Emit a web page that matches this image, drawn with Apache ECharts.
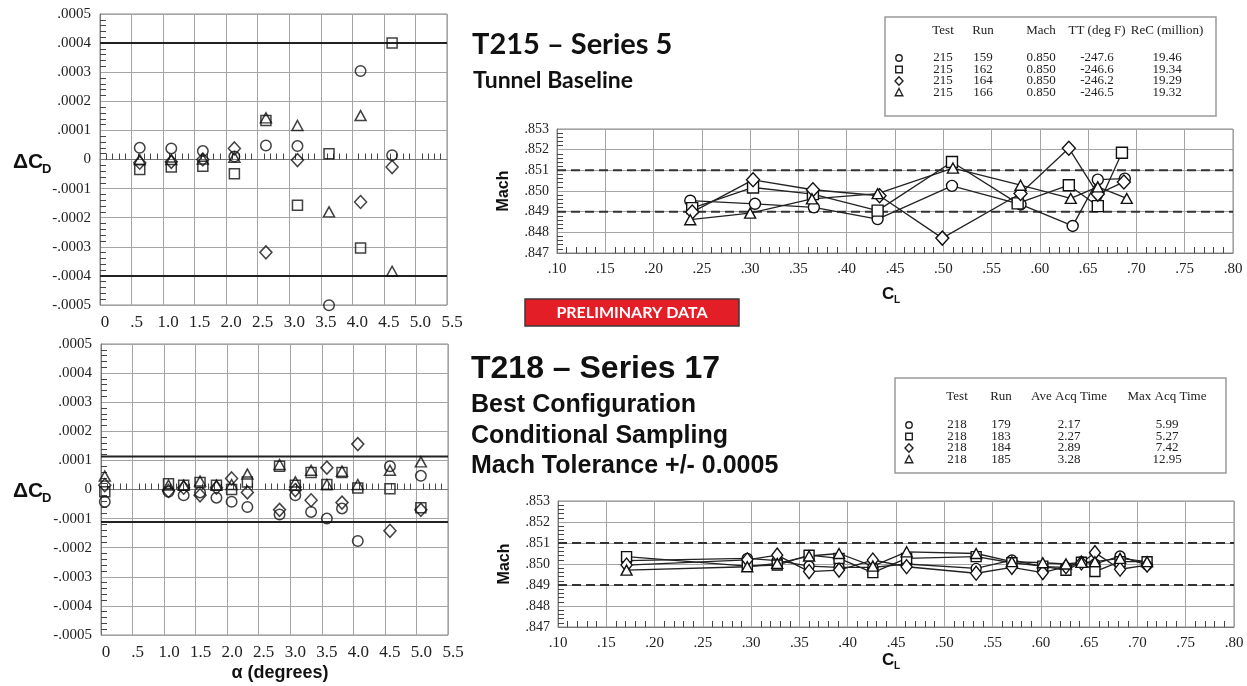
<!DOCTYPE html>
<html>
<head>
<meta charset="utf-8">
<script src="https://cdn.jsdelivr.net/npm/echarts/dist/echarts.min.js"></script>
<style>html,body{margin:0;padding:0;background:#fff;}#c{width:1247px;height:686px;}</style>
</head>
<body>
<div id="c"></div>
<script>
// ---------- Data: T215 Series 5, Delta CD vs alpha ----------
const tlAlpha  = [0.63, 1.13, 1.63, 2.13, 2.63, 3.13, 3.63, 4.13, 4.63];
const tlRun159 = [0.000040, 0.000038, 0.000029, 0.000010, 0.000048, 0.000046, -0.000501, 0.000304, 0.000015];
const tlRun162 = [-0.000034, -0.000026, -0.000023, -0.000049, 0.000134, -0.000157, 0.000020, -0.000304, 0.000400];
const tlRun164 = [-0.000011, -0.000008, 0.000000, 0.000038, -0.000319, -0.000002, null, -0.000146, -0.000026];
const tlRun166 = [0.000000, 0.000000, 0.000002, 0.000008, 0.000143, 0.000117, -0.000180, 0.000151, -0.000384];
const tlLimits = [0.0004, -0.0004];

// ---------- Data: T218 Series 17, Delta CD vs alpha ----------
const blAlpha  = [0.06, 1.07, 1.31, 1.57, 1.83, 2.07, 2.32, 2.83, 3.08, 3.33, 3.58, 3.82, 4.07, 4.58, 5.07];
const blRun179 = [-0.000042, -0.000008, -0.000020, -0.000010, -0.000028, -0.000042, -0.000060, -0.000086, -0.000020, -0.000077, -0.000100, -0.000065, -0.000177, 0.000080, 0.000047];
const blRun183 = [-0.000008, 0.000020, 0.000015, 0.000024, 0.000015, 0.000000, 0.000026, 0.000080, 0.000015, 0.000058, 0.000017, 0.000058, 0.000005, 0.000003, -0.000063];
const blRun184 = [0.000015, -0.000005, 0.000006, -0.000020, 0.000006, 0.000038, -0.000010, -0.000070, -0.000002, -0.000037, 0.000075, -0.000045, 0.000156, -0.000142, -0.000070];
const blRun185 = [0.000046, 0.000015, 0.000015, 0.000029, 0.000015, 0.000017, 0.000053, 0.000086, 0.000026, 0.000066, 0.000017, 0.000063, 0.000017, 0.000066, 0.000095];
const blLimits = [0.000113, -0.000112];

// ---------- Data: T215 Mach vs CL ----------
const trRun159CL   = [0.238, 0.305, 0.366, 0.432, 0.509, 0.580, 0.634, 0.660, 0.688];
const trRun159Mach = [0.84953, 0.84938, 0.84921, 0.84864, 0.85025, 0.84935, 0.84831, 0.85055, 0.85060];
const trRun162CL   = [0.240, 0.303, 0.365, 0.432, 0.509, 0.577, 0.630, 0.660, 0.685];
const trRun162Mach = [0.84917, 0.85017, 0.84985, 0.84905, 0.85140, 0.84940, 0.85028, 0.84927, 0.85185];
const trRun164CL   = [0.240, 0.303, 0.365, 0.434, 0.499, 0.580, 0.630, 0.660, 0.687];
const trRun164Mach = [0.84898, 0.85054, 0.85006, 0.84977, 0.84772, 0.84988, 0.85207, 0.84985, 0.85044];
const trRun166CL   = [0.238, 0.300, 0.364, 0.432, 0.510, 0.580, 0.632, 0.660, 0.690];
const trRun166Mach = [0.84861, 0.84893, 0.84962, 0.84987, 0.85111, 0.85028, 0.84964, 0.85020, 0.84964];

// ---------- Data: T218 Mach vs CL ----------
const brCL     = [0.171, 0.296, 0.327, 0.360, 0.391, 0.426, 0.461, 0.533, 0.570, 0.602, 0.626, 0.642, 0.656, 0.682, 0.710];
const brRun179 = [0.85016, 0.85027, 0.85016, 0.84990, 0.84984, 0.84984, 0.85000, 0.84979, 0.85019, 0.84987, 0.84984, 0.85011, 0.85000, 0.85038, 0.84995];
const brRun183 = [0.85035, 0.84990, 0.84995, 0.85042, 0.85027, 0.84959, 0.85027, 0.85035, 0.85006, 0.84990, 0.84970, 0.85008, 0.84964, 0.85011, 0.85011];
const brRun184 = [0.84995, 0.85020, 0.85042, 0.84964, 0.84971, 0.85019, 0.84987, 0.84956, 0.84984, 0.84959, 0.84987, 0.85005, 0.85054, 0.84975, 0.84995];
const brRun185 = [0.84971, 0.84987, 0.85003, 0.85038, 0.85050, 0.84990, 0.85058, 0.85050, 0.85011, 0.85006, 0.85000, 0.85008, 0.85011, 0.85027, 0.85011];
const machLimits = [0.851, 0.849];

// ---------- Axis ranges ----------
const alphaRange = [0, 5.5];
const clRange = [0.10, 0.80];

// ---------- Legend tables ----------
const topHeader = ['Test', 'Run', 'Mach', 'TT (deg F)', 'ReC (million)'];
const topRows = [
  ['215', '159', '0.850', '-247.6', '19.46'],
  ['215', '162', '0.850', '-246.6', '19.34'],
  ['215', '164', '0.850', '-246.2', '19.29'],
  ['215', '166', '0.850', '-246.5', '19.32']
];
const botHeader = ['Test', 'Run', 'Ave Acq Time', 'Max Acq Time'];
const botRows = [
  ['218', '179', '2.17', '5.99'],
  ['218', '183', '2.27', '5.27'],
  ['218', '184', '2.89', '7.42'],
  ['218', '185', '3.28', '12.95']
];

// ---------- helpers ----------
const zip = (xs, ys) => xs.map((x, i) => [x, ys[i]]);
const SYM = {
  circle: 'circle',
  square: 'rect',
  diamond: 'path://M0,-10L10,0L0,10L-10,0Z',
  triangle: 'path://M0,-10L10,8L-10,8Z'
};
const SIZE = { circle: 10.5, square: 10, diamond: [12, 13], triangle: [11, 10] };
const order = ['circle', 'square', 'diamond', 'triangle'];

function fmtDC(v) { if (Math.abs(v) < 1e-12) return '0'; return v.toFixed(4).replace('0.', '.'); }
function fmtAlpha(v) { if (Math.abs(v) < 1e-9) return '0'; if (Math.abs(v - 0.5) < 1e-9) return '.5'; return v.toFixed(1); }
function fmt2(v) { return v.toFixed(2).replace('0.', '.'); }
function fmt3(v) { return v.toFixed(3).replace('0.', '.'); }

const GRIDC = '#a4a4a4';
const SERIF = 'Liberation Serif';

function alphaX(gi) {
  return {
    gridIndex: gi, type: 'value', min: alphaRange[0], max: alphaRange[1], interval: 0.5,
    axisLine: { show: true, lineStyle: { color: '#777' } },
    axisTick: { show: false, inside: true },
    minorTick: { show: true, splitNumber: 5, length: 6, lineStyle: { color: '#444' } },
    splitLine: { show: true, lineStyle: { color: GRIDC } },
    axisLabel: { formatter: fmtAlpha, fontFamily: SERIF, fontSize: 17, color: '#222', margin: 9, padding: [0, 0, 0, 10] }
  };
}
function dcY(gi) {
  return {
    gridIndex: gi, type: 'value', min: -0.0005, max: 0.0005, interval: 0.0001,
    axisLine: { show: true, lineStyle: { color: '#777' } },
    axisTick: { show: false, inside: true },
    minorTick: { show: true, splitNumber: 5, length: 6, lineStyle: { color: '#444' } },
    splitLine: { show: true, lineStyle: { color: GRIDC } },
    axisLabel: { formatter: fmtDC, fontFamily: SERIF, fontSize: 15, color: '#222', margin: 9 }
  };
}
function clX(gi) {
  return {
    gridIndex: gi, type: 'value', min: clRange[0], max: clRange[1], interval: 0.05,
    axisLine: { show: true, lineStyle: { color: '#777' } },
    axisTick: { show: false, inside: true },
    minorTick: { show: true, splitNumber: 5, length: 6, lineStyle: { color: '#444' } },
    splitLine: { show: true, lineStyle: { color: GRIDC } },
    axisLabel: { formatter: fmt2, fontFamily: SERIF, fontSize: 15, color: '#222', margin: 9 }
  };
}
function machY(gi) {
  return {
    gridIndex: gi, type: 'value', min: 0.847, max: 0.853, interval: 0.001,
    name: 'Mach', nameLocation: 'middle', nameGap: 45, nameRotate: 90,
    nameTextStyle: { fontFamily: 'Liberation Sans', fontWeight: 'bold', fontSize: 16, color: '#111' },
    axisLine: { show: true, lineStyle: { color: '#777' } },
    axisTick: { show: false, inside: true },
    minorTick: { show: true, splitNumber: 5, length: 6, lineStyle: { color: '#444' } },
    splitLine: { show: true, lineStyle: { color: GRIDC } },
    axisLabel: { formatter: fmt3, fontFamily: SERIF, fontSize: 14, color: '#222', margin: 8 }
  };
}

function scatterSeries(gi, shape, data) {
  return {
    type: 'scatter', xAxisIndex: gi, yAxisIndex: gi, data: data,
    symbol: SYM[shape], symbolSize: SIZE[shape], clip: false,
    itemStyle: { color: 'rgba(0,0,0,0)', borderColor: '#111', borderWidth: 1.5 },
    z: 3
  };
}
function lineSeries(gi, shape, data, sizeOverride) {
  return {
    type: 'line', xAxisIndex: gi, yAxisIndex: gi, data: data,
    symbol: SYM[shape], symbolSize: sizeOverride || SIZE[shape], showSymbol: true, clip: false,
    lineStyle: { color: '#222', width: 1.3 },
    itemStyle: { color: '#fff', borderColor: '#111', borderWidth: 1.4 },
    z: 3
  };
}
function limitSeries(gi, v, range, dashed) {
  return {
    type: 'line', xAxisIndex: gi, yAxisIndex: gi, data: [[range[0], v], [range[1], v]],
    symbol: 'none', silent: true, z: 2,
    lineStyle: dashed ? { color: '#333', width: 2, type: [9, 5] } : { color: '#222', width: 2, type: 'solid' }
  };
}

const tlSets = [tlRun159, tlRun162, tlRun164, tlRun166];
const blSets = [blRun179, blRun183, blRun184, blRun185];
const trSets = [[trRun159CL, trRun159Mach], [trRun162CL, trRun162Mach], [trRun164CL, trRun164Mach], [trRun166CL, trRun166Mach]];
const brSets = [brRun179, brRun183, brRun184, brRun185];

const series = [];
tlLimits.forEach(v => series.push(limitSeries(0, v, alphaRange, false)));
blLimits.forEach(v => series.push(limitSeries(1, v, alphaRange, false)));
machLimits.forEach(v => series.push(limitSeries(2, v, clRange, true)));
machLimits.forEach(v => series.push(limitSeries(3, v, clRange, true)));
order.forEach((sh, i) => series.push(scatterSeries(0, sh, zip(tlAlpha, tlSets[i]))));
order.forEach((sh, i) => series.push(scatterSeries(1, sh, zip(blAlpha, blSets[i]))));
const trSize = { circle: 11, square: 11, diamond: [13, 14], triangle: [11, 10] };
order.forEach((sh, i) => series.push(lineSeries(2, sh, zip(trSets[i][0], trSets[i][1]), trSize[sh])));
const brSize = { circle: 10, square: 10, diamond: [11, 14], triangle: [11, 10] };
order.forEach((sh, i) => series.push(lineSeries(3, sh, zip(brCL, brSets[i]), brSize[sh])));

// ---------- graphic (titles, labels, tables) ----------
function txt(x, y, s, font, align, color) {
  return {
    type: 'text', x: x, y: y, z: 50, silent: true,
    style: { text: s, font: font, fill: color || '#111', align: align || 'left', textAlign: align || 'left',
             verticalAlign: 'middle', textVerticalAlign: 'middle' }
  };
}
function glyph(shape, cx, cy) {
  const st = { fill: 'none', stroke: '#222', lineWidth: 1.4 };
  if (shape === 'circle') return { type: 'circle', z: 50, shape: { cx: cx, cy: cy, r: 3.2 }, style: st };
  if (shape === 'square') return { type: 'rect', z: 50, shape: { x: cx - 3.3, y: cy - 3.3, width: 6.6, height: 6.6 }, style: st };
  if (shape === 'diamond') return { type: 'polygon', z: 50, shape: { points: [[cx, cy - 4.3], [cx + 4, cy], [cx, cy + 4.3], [cx - 4, cy]] }, style: st };
  return { type: 'polygon', z: 50, shape: { points: [[cx, cy - 4], [cx + 3.8, cy + 3.3], [cx - 3.8, cy + 3.3]] }, style: st };
}

const TF = '13px "Liberation Serif"';
const graphics = [];
// top legend table
graphics.push({ type: 'rect', z: 40, shape: { x: 885, y: 17, width: 331, height: 99 }, style: { fill: '#fff', stroke: '#9a9a9a', lineWidth: 1.5 } });
const topCols = [943, 983, 1041, 1097, 1167];
topHeader.forEach((h, j) => graphics.push(txt(topCols[j], 31, h, TF, 'center', '#222')));
const topRowY = [58, 69.5, 81, 92.5];
topRows.forEach((r, i) => {
  graphics.push(glyph(order[i], 899, topRowY[i]));
  r.forEach((c, j) => graphics.push(txt(topCols[j], topRowY[i], c, TF, 'center', '#222')));
});
// bottom legend table
graphics.push({ type: 'rect', z: 40, shape: { x: 895, y: 378, width: 331, height: 95 }, style: { fill: '#fff', stroke: '#9a9a9a', lineWidth: 1.5 } });
const botCols = [957, 1001, 1069, 1167];
botHeader.forEach((h, j) => graphics.push(txt(botCols[j], 397, h, TF, 'center', '#222')));
const botRowY = [425, 436.5, 448, 459.5];
botRows.forEach((r, i) => {
  graphics.push(glyph(order[i], 909, botRowY[i]));
  r.forEach((c, j) => graphics.push(txt(botCols[j], botRowY[i], c, TF, 'center', '#222')));
});
// titles
graphics.push(txt(472, 45, 'T215 – Series 5', 'bold 29px Lato'));
graphics.push(txt(473, 81, 'Tunnel Baseline', 'bold 23px Lato'));
graphics.push({ type: 'rect', z: 45, shape: { x: 525, y: 299, width: 214, height: 27 }, style: { fill: '#e41e26', stroke: '#3a3a3a', lineWidth: 1.5 } });
graphics.push(txt(632, 313, 'PRELIMINARY DATA', 'bold 16px Lato', 'center', '#fff'));
graphics.push(txt(471, 369, 'T218 – Series 17', 'bold 32px "Liberation Sans"'));
graphics.push(txt(471, 405, 'Best Configuration', 'bold 25px "Liberation Sans"'));
graphics.push(txt(471, 436, 'Conditional Sampling', 'bold 25px "Liberation Sans"'));
graphics.push(txt(471, 466, 'Mach Tolerance +/- 0.0005', 'bold 25px "Liberation Sans"'));
// axis names
graphics.push(txt(13, 162, 'ΔC', 'bold 21px "Liberation Sans"'));
graphics.push(txt(42, 169, 'D', 'bold 13px "Liberation Sans"'));
graphics.push(txt(13, 491, 'ΔC', 'bold 21px "Liberation Sans"'));
graphics.push(txt(42, 498, 'D', 'bold 13px "Liberation Sans"'));
graphics.push(txt(280, 673, 'α (degrees)', 'bold 18px "Liberation Sans"', 'center'));
graphics.push(txt(882, 294, 'C', 'bold 17px "Liberation Sans"'));
graphics.push(txt(894, 300, 'L', 'bold 10px "Liberation Sans"'));
graphics.push(txt(882, 660, 'C', 'bold 17px "Liberation Sans"'));
graphics.push(txt(894, 666, 'L', 'bold 10px "Liberation Sans"'));

const option = {
  animation: false,
  backgroundColor: '#fff',
  grid: [
    { left: 100, top: 14, width: 347, height: 291, show: true, borderColor: '#888', borderWidth: 1 },
    { left: 101, top: 344, width: 347, height: 291, show: true, borderColor: '#888', borderWidth: 1 },
    { left: 557, top: 129, width: 676, height: 124, show: true, borderColor: '#888', borderWidth: 1 },
    { left: 558, top: 501, width: 676, height: 126, show: true, borderColor: '#888', borderWidth: 1 }
  ],
  xAxis: [alphaX(0), alphaX(1), clX(2), clX(3)],
  yAxis: [dcY(0), dcY(1), machY(2), machY(3)],
  series: series,
  graphic: graphics
};

const chart = echarts.init(document.getElementById('c'), null, { renderer: 'canvas' });
chart.setOption(option);
</script>
</body>
</html>
